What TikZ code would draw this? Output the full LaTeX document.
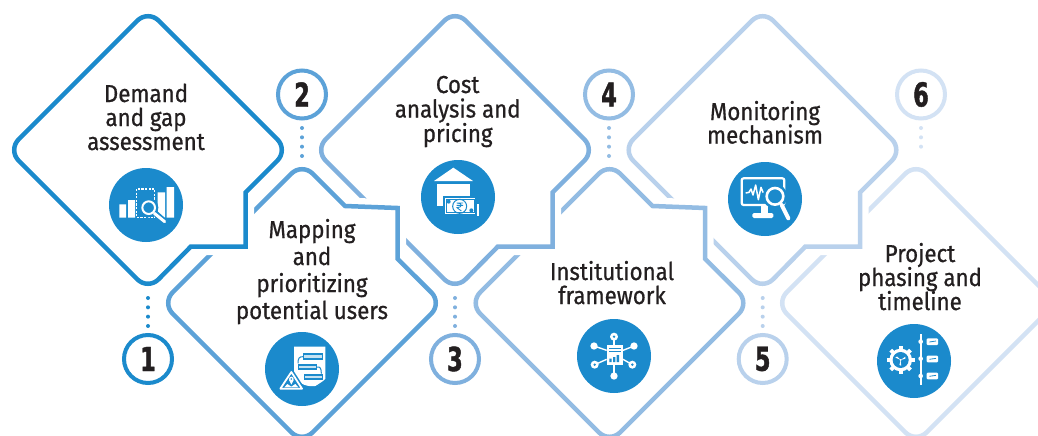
\documentclass[tikz,border=0pt]{standalone}
\usepackage{fontspec}
\setmainfont{Fira Sans}[FakeStretch=0.91,FakeBold=0.7]
\newfontfamily\numfont{DejaVu Sans Bold}[FakeStretch=0.68,FakeBold=1.3]
\setlength{\normallineskiplimit}{-30pt}
\setlength{\lineskiplimit}{-30pt}
\AtBeginDocument{\setlength{\normallineskiplimit}{-30pt}\setlength{\lineskiplimit}{-30pt}}
\definecolor{cA}{HTML}{1B8ACC}
\definecolor{cB}{HTML}{5CA2D8}
\definecolor{cC}{HTML}{7FB0DE}
\definecolor{cD}{HTML}{93BCE3}
\definecolor{cE}{HTML}{B9D1EC}
\definecolor{cF}{HTML}{D3E2F4}
\definecolor{ink}{HTML}{231F20}
\tikzset{
  stepdiamond/.style={draw=#1,line width=4.5pt,line join=miter,miter limit=10,
    preaction={draw=white,fill=white,line width=17pt}},
  numring/.style={circle,draw=#1,fill=white,line width=4pt,minimum size=48pt,inner sep=0pt,
    text=ink,font=\numfont\fontsize{33}{33}\selectfont},
  dotline/.style={draw=#1,line width=4pt,line cap=round,dash pattern=on 0pt off 9.33pt},
  iconbg/.style={circle,fill=cA,minimum size=74pt,inner sep=0pt},
  steptext/.style={text=ink,align=center,inner sep=0pt,anchor=base,font=\fontsize{24.5}{#1}\selectfont},
  wl/.style={draw=white,line width=#1},
  bl/.style={draw=cA,line width=#1},
}
\newcommand{\topdiamond}[3]{%
  \begin{scope}[shift={(#1,#2)}]
    \path[stepdiamond=#3,rounded corners=15pt]
      (-70,-70) -- (0,-140) -- (140,0) [sharp corners] -- (97.7,42.3) -- (97.7,96.7) -- (42.7,96.7)
      [rounded corners=15pt] -- (0,140) -- (-140,0) -- cycle;
  \end{scope}}
\newcommand{\botdiamond}[3]{%
  \begin{scope}[shift={(#1,#2)}]
    \path[stepdiamond=#3,rounded corners=15pt]
      (-70,-70) -- (0,-140) [sharp corners] -- (43,-97) -- (95.7,-95) -- (95.7,-44)
      [rounded corners=15pt] -- (140,0) -- (0,140) -- (-140,0) -- cycle;
  \end{scope}}
\newcommand{\plaindiamond}[3]{%
  \begin{scope}[shift={(#1,#2)}]
    \path[stepdiamond=#3,rounded corners=15pt]
      (-70,-70) -- (0,-140) -- (140,0) -- (0,140) -- (-140,0) -- cycle;
  \end{scope}}
\begin{document}
\begin{tikzpicture}[x=1pt,y=-1pt]
\useasboundingbox (0,0) rectangle (1038,436);
\clip (0,0) rectangle (1038,436);
\fill[white] (0,0) rectangle (1038,436);
% diamonds, last one first
\plaindiamond{916}{303}{cF}
\topdiamond{762.5}{150}{cE}
\botdiamond{609.5}{303}{cD}
\topdiamond{455}{150}{cC}
\botdiamond{302}{303}{cB}
\topdiamond{148}{150}{cA}
% number rings
\node[numring=cA] (n1) at (148,359) {1};
\node[numring=cB] (n2) at (302,94.5) {2};
\node[numring=cC] (n3) at (455,359) {3};
\node[numring=cD] (n4) at (609,94.5) {4};
\node[numring=cE] (n5) at (762.7,359) {5};
\node[numring=cF] (n6) at (921,94.5) {6};
% dotted connectors
\draw[dotline=cA] ([yshift=35pt]n1.north) -- ([yshift=6.5pt]n1.north);
\draw[dotline=cB] ([yshift=-7.5pt]n2.south) -- ([yshift=-36pt]n2.south);
\draw[dotline=cC] ([yshift=35pt]n3.north) -- ([yshift=6.5pt]n3.north);
\draw[dotline=cD] ([yshift=-7.5pt]n4.south) -- ([yshift=-36pt]n4.south);
\draw[dotline=cE] ([yshift=35pt]n5.north) -- ([yshift=6.5pt]n5.north);
\draw[dotline=cF] ([yshift=-7.5pt]n6.south) -- ([yshift=-26.5pt]n6.south);
% labels
\node[steptext=24] (t1) at (146,150) {Demand\\and gap\\assessment};
\node[steptext=27] (t2) at (312,319) {Mapping\\and\\prioritizing\\potential users};
\node[steptext=24.5] (t3) at (457.7,142) {Cost\\analysis and\\pricing};
\node[steptext=24] (t4) at (612,304) {Institutional\\framework};
\node[steptext=23.5] (t5) at (765,143.5) {Monitoring\\mechanism};
\node[steptext=24] (t6) at (920,310) {Project\\phasing and\\timeline};
% icon discs
\node[iconbg] (i1) at (146,205) {};
\node[iconbg] (i2) at (302,369) {};
\node[iconbg] (i3) at (458,197) {};
\node[iconbg] (i4) at (614,356) {};
\node[iconbg] (i5) at (765,199) {};
\node[iconbg] (i6) at (914,361) {};
% icon 1
\begin{scope}[shift={(106,165)},scale=1/3]
  \fill[white] (40,118) rectangle (60,158) (66,105) rectangle (87,158)
     (155,82) rectangle (177,158) (182,66) rectangle (204,158);
  \draw[wl=1.4pt,dash pattern=on 2.2pt off 1.4pt] (92,72) rectangle (146,158);
  \draw[cA,line width=6pt] (142,140) -- (176,170);
  \fill[cA] (128,128) circle (29);
  \draw[wl=2pt] (128,128) circle (19);
  \draw[wl=3pt,line cap=round] (145,145) -- (176,170);
\end{scope}
% icon 2
\begin{scope}[shift={(262,328)},scale=1/3]
  \fill[white] (96,56) -- (190,56) -- (190,152) -- (170,172) .. controls (150,178) and (125,175) .. (100,155) -- (96,140) -- cycle;
  \foreach \a/\b in {124/76,107/107,125/138}{
    \fill[cA] (\a,\b) rectangle ++(58,19);
    \fill[white!75!cA] (\a+3,\b+6) rectangle ++(52,7);
  }
  \draw[bl=1pt] (123,86) .. controls (112,86) and (108,90) .. (108,106);
  \draw[bl=1pt] (165,117) .. controls (175,115) and (178,122) .. (178,137);
  \draw[bl=1.2pt] (160,177) -- (186,160);
  \draw[cA,line width=5pt,line join=round,fill=cA] (55,182) -- (88,132) -- (120,182) -- cycle;
  \draw[wl=1.8pt,line join=round,fill=cA] (55,182) -- (88,132) -- (120,182) -- cycle;
  \fill[white] (88,153) circle (7);
  \fill[white] (81,156) -- (95,156) -- (88,170) -- cycle;
  \fill[cA] (88,153) circle (2.6);
  \fill[white] (67,178) -- (76,168) -- (88,176) -- (100,168) -- (109,178) -- cycle;
\end{scope}
% icon 3
\begin{scope}[shift={(418,157)},scale=1/3]
  \fill[white] (48,72) -- (106,32) -- (165,72) -- cycle;
  \fill[white] (58,82) rectangle (156,147);
  \draw[bl=1.6pt,fill=white] (100,140) rectangle (186,180);
  \draw[bl=1.6pt,fill=white] (78,120) rectangle (174,174);
  \draw[bl=1pt] (85,127) rectangle (168,167);
  \fill[cA] (92,134) circle (6) (160,160) circle (6);
  \draw[bl=1pt] (125,148) circle (21);
  \draw[bl=.9pt] (116,138) -- (135,138) (116,145) -- (135,145) (117,138) .. controls (134,137) and (134,152) .. (117,152) -- (130,162);
\end{scope}
% icon 4
\begin{scope}[shift={(574,316)},scale=1/3]
  \draw[wl=1.4pt] (120,62) -- (120,180);
  \draw[wl=1.4pt] (60,90) -- (98,103) (180,90) -- (147,103) (62,146) -- (98,130) (175,146) -- (147,130);
  \fill[white] (98,88) rectangle (147,147);
  \draw[bl=.8pt] (105,96) -- (140,96) (105,106) -- (140,106);
  \fill[cA] (106,138) rectangle ++(7,-10) (117,138) rectangle ++(7,-15) (128,138) rectangle ++(7,-21);
  \fill[white] (120,62) circle (12) (120,180) circle (11) (60,90) circle (11) (180,90) circle (11) (62,146) circle (12) (175,146) circle (12);
  \fill[cA] (120,62) circle (4) (62,146) circle (4) (175,146) circle (4);
\end{scope}
% icon 5
\begin{scope}[shift={(725,159)},scale=1/3]
  \draw[wl=2.2pt,rounded corners=2pt] (50,58) rectangle (178,138);
  \fill[white] (108,138) rectangle (130,162);
  \fill[white,rounded corners=1.5pt] (82,162) rectangle (145,177);
  \draw[wl=1.5pt,line join=round] (62,102) -- (72,100) -- (78,90) -- (84,108) -- (92,78) -- (100,122) -- (108,85) -- (114,100) -- (122,98);
  \fill[cA] (150,112) circle (37);
  \draw[wl=2.6pt] (150,112) circle (25);
  \draw[wl=4pt,line cap=round] (170,138) -- (190,178);
\end{scope}
% icon 6
\begin{scope}[shift={(874,321)},scale=1/3]
  \foreach \ang in {0,45,...,315}
    \draw[wl=3.8pt] (80,117) ++(\ang:28) -- ++(\ang:14);
  \fill[white] (80,117) circle (34);
  \fill[cA] (80,117) circle (24);
  \foreach \ang in {90,210,330}
    \fill[white] (80,117) -- ++(\ang+14:15) -- ++(\ang-60:6) -- cycle;
  \fill[white] (80,117) circle (3);
  \draw[wl=2pt] (140,40) -- (140,192);
  \fill[white] (140,62) circle (7) (140,113) circle (7) (140,165) circle (7);
  \foreach \y in {52,104,155}{
    \fill[white,rounded corners=1pt] (158,\y) rectangle ++(34,20);
    \draw[bl=.8pt] (166,\y+11) -- (186,\y+8);
  }
\end{scope}
\end{tikzpicture}
\end{document}
